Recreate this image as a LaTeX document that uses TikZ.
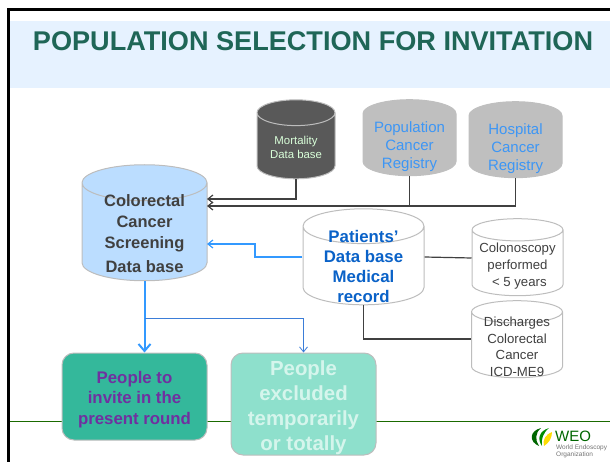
\documentclass[tikz,border=0pt]{standalone}
\usepackage{fontspec}
\setmainfont{Liberation Sans}
\usetikzlibrary{shapes.geometric,arrows.meta}
\definecolor{bandblue}{HTML}{E6F2FF}
\definecolor{titlegreen}{HTML}{1F6657}
\definecolor{linkblue}{HTML}{3399FF}
\definecolor{thinblue}{HTML}{3B7DD8}
\definecolor{regblue}{HTML}{3D96F5}
\definecolor{patblue}{HTML}{0A62C8}
\definecolor{edgegray}{HTML}{BDBDBD}
\definecolor{txtgray}{HTML}{404040}
\definecolor{ruleg}{HTML}{1A6A00}
\definecolor{screenfill}{HTML}{BBDDFF}
\definecolor{invitefill}{HTML}{34B89B}
\definecolor{excludefill}{HTML}{8EE0CC}
\definecolor{invitetext}{HTML}{7030A0}
\definecolor{excludetext}{HTML}{D5F5EC}
\tikzset{
  base/.style={cylinder,shape border rotate=90,draw=edgegray,line width=1pt,inner sep=0pt,
    execute at begin node={\hspace*{60pt}}},
  screening/.style={base,fill=screenfill,minimum width=125pt,minimum height=116pt,shape aspect=0.6},
  mortal/.style={base,fill=black!65,minimum width=78pt,minimum height=79pt,shape aspect=0.43},
  registry/.style={base,draw=black!25,fill=black!25,minimum width=93pt,minimum height=76pt,shape aspect=0.47},
  patients/.style={base,fill=white,minimum width=121pt,minimum height=96pt,shape aspect=0.58},
  source/.style={base,fill=white,minimum width=91pt,minimum height=77pt,shape aspect=0.37},
  screeningtext/.style={align=center,inner sep=0pt,yshift=-2pt,font=\fontsize{16.5}{21}\selectfont\bfseries,text=txtgray},
  mortaltext/.style={align=center,inner sep=0pt,yshift=-1pt,font=\fontsize{11.4}{14}\selectfont,text=white!85!green},
  registrytext/.style={align=center,inner sep=0pt,yshift=-2pt,font=\fontsize{15}{18}\selectfont,text=regblue},
  patientstext/.style={align=center,inner sep=0pt,yshift=-1pt,font=\fontsize{16.8}{20}\selectfont\bfseries,text=patblue},
  sourcetext/.style={align=center,inner sep=0pt,yshift=-2pt,font=\fontsize{13.2}{16.5}\selectfont,text=txtgray},
  people/.style={draw=edgegray,line width=1pt,rounded corners=12pt,align=center,inner sep=0pt},
  darkline/.style={draw=black!75,line width=1.2pt},
  blueline/.style={draw=linkblue,line width=1.2pt}
}
\begin{document}
\begin{tikzpicture}[x=1pt,y=-1pt,>={Straight Barb[length=5pt,width=8pt]}]
  \useasboundingbox (0,0) rectangle (610,462);
  % slide
  \fill[bandblue] (10,21) rectangle (610,88);
  \draw[line width=3pt] (8.5,462) -- (8.5,9.5) -- (610,9.5);
  \draw[ruleg,line width=1pt] (10,421) -- (610,421);
  \node (title) at (313,41) [font=\fontsize{27.1}{30}\selectfont\bfseries,text=titlegreen] {POPULATION SELECTION FOR INVITATION};
  % data bases
  \node (colorectal) at (144.5,232) [screening,label={[screeningtext]center:Colorectal\\Cancer\\Screening\\[3pt]Data base}] {};
  \node (mortality) at (296,146) [mortal,label={[mortaltext]center:Mortality\\Data base}] {};
  \node (population) at (409.5,145) [registry,label={[registrytext]center:Population\\Cancer\\Registry}] {};
  \node (hospital) at (515.5,147) [registry,label={[registrytext]center:Hospital\\Cancer\\Registry}] {};
  \node (patient) at (363.5,265.75) [patients,label={[patientstext]center:Patients’\\Data base\\Medical\\record}] {};
  \node (colonoscopy) at (517.5,263) [source,label={[sourcetext,yshift=-1pt]center:Colonoscopy\\[0.6pt]performed\\[0.6pt]\ < 5 years}] {};
  \node (discharges) at (517,345) [source,label={[sourcetext]center:Discharges\\Colorectal\\Cancer\\ICD-ME9}] {};
  % people
  \node (invite) at (134.5,396.5) [people,fill=invitefill,minimum width=145pt,minimum height=87pt,
    font=\fontsize{16.8}{20.5}\selectfont\bfseries,text=invitetext] {\rule{0pt}{18pt}People to\\invite in the\\present round};
  \node (excluded) at (303.5,404) [people,fill=excludefill,minimum width=145pt,minimum height=102pt,
    font=\fontsize{20.4}{25}\selectfont\bfseries,text=excludetext] {\rule{0pt}{22.6pt}People\\excluded\\temporarily\\or totally};
  % free ends
  \coordinate (inmort) at (207,199);
  \coordinate (inreg) at (207,206);
  \coordinate (inpat) at (207,244);
  \coordinate (branch) at (145,318);
  % connectors
  \draw[darkline,->] (mortality.south) |- (inmort);
  \draw[darkline,->] (hospital.south) |- (inreg);
  \draw[darkline] (population.south) -- (population.south |- inreg);
  \draw[blueline,->] ([yshift=8.75pt]patient.west) -| (255,244) -- (inpat);
  \draw[darkline] ([yshift=8.75pt]patient.east) -- ([yshift=5pt]colonoscopy.west);
  \draw[darkline] (patient.south) |- ([yshift=6pt]discharges.west);
  \draw[linkblue,line width=2pt,-{Straight Barb[length=7pt,width=12pt]}] (colorectal.south) -- (colorectal.south |- invite.north);
  \draw[thinblue,line width=0.8pt,->] (branch) -| (excluded.north);
  % logo
  \fill[green!40!black] (541,428) .. controls (529,431) and (529,442) .. (539,446) .. controls (535,440) and (535,433) .. (541,428);
  \fill[green!55!black] (549,428) .. controls (539,431) and (537,439) .. (542,446) .. controls (541,439) and (543,433) .. (549,428);
  \fill[yellow!80!orange] (552,432) .. controls (546,434) and (542,440) .. (544,446) .. controls (549,443) and (552,438) .. (552,432);
  \node (weo) at (573,436) [font=\fontsize{15}{15}\selectfont,text=green!40!black] {WEO};
  \node (weoname) at (556,451.5) [anchor=west,inner sep=0pt,align=left,font=\fontsize{6.5}{7.5}\selectfont,text=black!55] {World Endoscopy\\Organization};
\end{tikzpicture}
\end{document}
